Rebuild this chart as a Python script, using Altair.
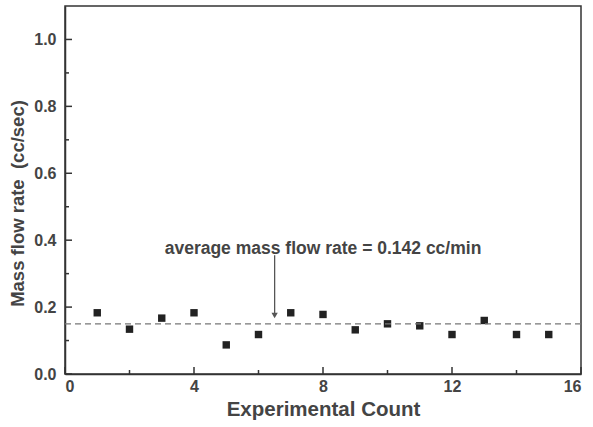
import altair as alt
import pandas as pd

counts = list(range(1, 16))
flow = [0.183, 0.134, 0.167, 0.183, 0.087, 0.118, 0.183, 0.178, 0.132, 0.150, 0.144, 0.118, 0.160, 0.118, 0.118]
avg_line = 0.15
x_major = [0, 4, 8, 12, 16]
x_minor = [2, 6, 10, 14]
y_major = [0.0, 0.2, 0.4, 0.6, 0.8, 1.0]
y_minor = [0.1, 0.3, 0.5, 0.7, 0.9]
annot_text = "average mass flow rate = 0.142 cc/min"
annot_x = 8.0
annot_y = 0.375
arrow_x = 6.5
arrow_top = 0.355
arrow_tip = 0.175

W, H = 516, 368
FONT = "Liberation Sans"
XMAX, YMAX = 16.0, 1.1
XT_MAJ, XT_MIN = 7 / W * XMAX, 4 / W * XMAX
YT_MAJ, YT_MIN = 7 / H * YMAX, 4 / H * YMAX

df = pd.DataFrame({"count": counts, "flow": flow})

xs = alt.Scale(domain=[0, XMAX], nice=False, zero=False)
ys = alt.Scale(domain=[0, YMAX], nice=False)

base_x = alt.X("count:Q", scale=xs, title="Experimental Count",
               axis=alt.Axis(values=x_major, format="d", tickSize=0, labelPadding=4,
                             labelFont=FONT, labelFontSize=16, labelFontWeight="bold",
                             labelColor="#444", titleFont=FONT, titleFontSize=20.5,
                             titleFontWeight="bold", titleColor="#444", titlePadding=5,
                             domainColor="#333", domainWidth=1.5, grid=False))
base_y = alt.Y("flow:Q", scale=ys, title="Mass flow rate\u00a0\u00a0(cc/sec)",
               axis=alt.Axis(values=y_major, format=".1f", tickSize=0, labelPadding=9,
                             labelFont=FONT, labelFontSize=16, labelFontWeight="bold",
                             labelColor="#444", titleFont=FONT, titleFontSize=18.5,
                             titleFontWeight="bold", titleColor="#444", titlePadding=6,
                             titleY=197, domainColor="#333", domainWidth=1.5, grid=False))

points = alt.Chart(df).mark_square(size=55, color="#222", opacity=1).encode(x=base_x, y=base_y)

avg = alt.Chart(pd.DataFrame({"y": [avg_line]})).mark_rule(
    color="#777", strokeDash=[6, 4], strokeWidth=1.2).encode(y=alt.Y("y:Q", scale=ys))

xt = pd.DataFrame({"tx": x_major + x_minor,
                   "ty0": [0.0] * (len(x_major) + len(x_minor)),
                   "ty1": [YT_MAJ] * len(x_major) + [YT_MIN] * len(x_minor)})
xticks = alt.Chart(xt).mark_rule(color="#333", strokeWidth=1.5).encode(
    x=alt.X("tx:Q", scale=xs), y=alt.Y("ty0:Q", scale=ys), y2=alt.Y2("ty1:Q"))

yt = pd.DataFrame({"uy": y_major + y_minor,
                   "ux0": [0.0] * (len(y_major) + len(y_minor)),
                   "ux1": [XT_MAJ] * len(y_major) + [XT_MIN] * len(y_minor)})
yticks = alt.Chart(yt).mark_rule(color="#333", strokeWidth=1.5).encode(
    y=alt.Y("uy:Q", scale=ys), x=alt.X("ux0:Q", scale=xs), x2=alt.X2("ux1:Q"))

arrow_df = pd.DataFrame({"x": [arrow_x], "y": [arrow_top], "y2": [arrow_tip]})
arrow_line = alt.Chart(arrow_df).mark_rule(color="#555", strokeWidth=1.3).encode(
    x=alt.X("x:Q", scale=xs), y=alt.Y("y:Q", scale=ys), y2="y2:Q")
arrow_head = alt.Chart(arrow_df).mark_point(shape="triangle-down", filled=True, color="#555",
                                            size=40, opacity=1).encode(
    x=alt.X("x:Q", scale=xs), y=alt.Y("y2:Q", scale=ys))

label = alt.Chart(pd.DataFrame({"x": [annot_x], "y": [annot_y], "t": [annot_text]})).mark_text(
    font=FONT, fontSize=17.5, fontWeight="bold", color="#444", align="center", baseline="middle").encode(
    x=alt.X("x:Q", scale=xs), y=alt.Y("y:Q", scale=ys), text="t:N")

chart = alt.layer(points, avg, xticks, yticks, arrow_line, arrow_head, label).properties(
    width=W, height=H,
    autosize=alt.AutoSizeParams(type="none"),
    padding={"left": 65, "top": 6, "right": 12, "bottom": 53},
    background="white",
).configure_view(stroke="#333", strokeWidth=1.5)

chart.save("out.html", embed_options={"renderer": "svg", "actions": False})
